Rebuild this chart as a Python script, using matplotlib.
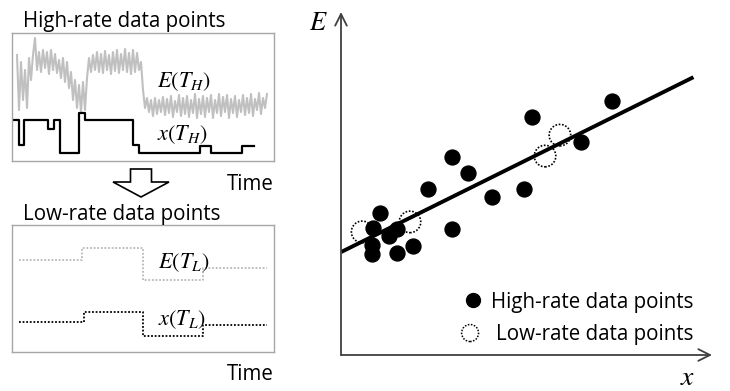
import numpy as np
import matplotlib.pyplot as plt
from matplotlib.patches import Polygon

plt.rcParams['mathtext.fontset'] = 'stix'
SANS = 'Open Sans'
FS = 14.8

W, H = 730, 391

# high-rate signals (time in samples, level above box bottom)
E_high = [106, 51, 99, 61, 91, 53, 103, 81, 106, 123, 91, 109, 89, 111, 93, 109,
          87, 111, 91, 107, 88, 101, 83, 103, 79, 99, 73, 89, 61, 81, 53, 76,
          49, 79, 51, 83,
          103, 89, 106, 91, 109, 89, 107, 88, 110, 91, 106, 87, 109, 90, 111, 88,
          107, 91, 112, 89, 108, 87, 111, 89, 108, 91, 99,
          71, 53, 63, 49, 61, 45, 63, 47, 61, 49, 64, 46, 62, 48, 65, 44,
          60, 49, 66, 45, 63, 47, 65, 44, 61, 48, 67, 43, 62, 47, 65, 44,
          63, 49, 66, 43, 61, 48, 67, 45, 64, 49, 66, 43, 62, 48, 65, 44,
          61, 49, 66, 46, 63, 48, 67, 45, 62, 51, 68, 47, 63, 53, 67]
t_high = np.arange(5, 5 + 2 * len(E_high), 2)

x_high_t = [0, 7, 12, 36, 42, 48, 67, 73, 121, 127, 188, 199, 230, 242]
x_high = [41, 16, 41, 32, 41, 8, 48, 41, 16, 8, 15, 8, 15, 15]

# low-rate signals
E_low_t = [7, 70, 131, 191, 255]
E_low = [92, 104, 72, 84, 84]
x_low_t = [7, 72, 131, 191, 255]
x_low = [30, 40, 16, 27, 27]

# scatter data
hi_x = [7.30, 5.15, 6.47, 2.99, 3.42, 2.35, 4.93, 4.07, 1.05, 2.99, 0.86,
        1.51, 1.29, 0.84, 0.84, 1.51, 1.94]
hi_E = [7.41, 6.94, 6.21, 5.77, 5.31, 4.84, 4.84, 4.61, 4.14, 3.67, 3.70,
        3.67, 3.47, 3.21, 2.94, 2.97, 3.18]
lo_x = [5.90, 5.50, 0.57, 1.86]
lo_E = [6.41, 5.80, 3.59, 3.88]
fit_x = [0.0, 9.5]
fit_E = [3.0, 8.1]


def fx(px):
    return px / W


def fy(py):
    return 1 - py / H


fig = plt.figure(figsize=(W / 100, H / 100), dpi=100)

# --- high-rate panel
ax_hi = fig.add_axes([fx(12), fy(161), 262 / W, 128 / H])
ax_hi.plot(t_high, E_high, color='#c0c0c0', lw=1.5)
ax_hi.plot(x_high_t, x_high, color='black', lw=1.6, drawstyle='steps-post')
ax_hi.set_xlim(0, 262)
ax_hi.set_ylim(0, 128)

# --- low-rate panel
ax_lo = fig.add_axes([fx(12), fy(352), 262 / W, 127 / H])
ax_lo.plot(E_low_t, E_low, color='#b8b8b8', lw=1.3, ls=(0, (1, 1)),
           drawstyle='steps-post')
ax_lo.plot(x_low_t, x_low, color='black', lw=1.3, ls=(0, (1, 1)),
           drawstyle='steps-post')
ax_lo.set_xlim(0, 262)
ax_lo.set_ylim(0, 127)

for ax in (ax_hi, ax_lo):
    ax.set_xticks([])
    ax.set_yticks([])
    for s in ax.spines.values():
        s.set_color('#a6a6a6')
        s.set_linewidth(1.0)

# --- scatter panel
ax = fig.add_axes([fx(341), fy(355), 371 / W, 343 / H])
ax.plot(fit_x, fit_E, color='black', lw=2.8, solid_capstyle='butt')
ax.scatter(hi_x, hi_E, s=115, color='black', zorder=3)
ax.scatter(lo_x, lo_E, s=240, facecolors='none', edgecolors='black',
           linewidths=1.2, linestyle=(0, (1, 1)), zorder=4)
ax.set_xlim(0, 10)
ax.set_ylim(0, 10)
ax.axis('off')

arrow = dict(arrowstyle='->, head_length=0.7, head_width=0.35',
             color='#404040', lw=1.3, shrinkA=0, shrinkB=0, mutation_scale=12)
ax.annotate('', xy=(0, 1), xytext=(0, 0), xycoords='axes fraction',
            arrowprops=arrow)
ax.annotate('', xy=(1, 0), xytext=(0, 0), xycoords='axes fraction',
            arrowprops=arrow)

# legend
ax.scatter([0.356], [0.160], s=100, color='black', transform=ax.transAxes,
           clip_on=False)
ax.scatter([0.348], [0.064], s=150, facecolors='none', edgecolors='black',
           linewidths=1.1, linestyle=(0, (1, 1)), transform=ax.transAxes,
           clip_on=False)
fig.text(fx(491), fy(308), 'High-rate data points', family=SANS,
         fontsize=FS, va='baseline')
fig.text(fx(496), fy(340), 'Low-rate data points', family=SANS,
         fontsize=FS, va='baseline')

# axis labels
fig.text(fx(309), fy(30), '$E$', fontsize=19, va='baseline')
fig.text(fx(680), fy(385), '$x$', fontsize=20, va='baseline')

# panel titles
fig.text(fx(23), fy(27), 'High-rate data points', family=SANS,
         fontsize=FS, va='baseline')
fig.text(fx(23), fy(220), 'Low-rate data points', family=SANS,
         fontsize=FS, va='baseline')
fig.text(fx(274), fy(190), 'Time', family=SANS, fontsize=FS,
         va='baseline', ha='right')
fig.text(fx(274), fy(380), 'Time', family=SANS, fontsize=FS,
         va='baseline', ha='right')

# signal labels
fig.text(fx(157), fy(87), '$E(T_H)$', fontsize=16, va='baseline')
fig.text(fx(157), fy(140), '$x(T_H)$', fontsize=16, va='baseline')
fig.text(fx(158), fy(268), '$E(T_L)$', fontsize=16, va='baseline')
fig.text(fx(158), fy(325), '$x(T_L)$', fontsize=16, va='baseline')

# hollow down arrow between the panels
pts = [(130.5, 169), (151.5, 169), (151.5, 182), (169, 182), (141, 197),
       (113, 182), (130.5, 182)]
fig.add_artist(Polygon([(fx(a), fy(b)) for a, b in pts], closed=True,
                       facecolor='white', edgecolor='black', lw=1.2,
                       transform=fig.transFigure))

fig.savefig('out.png', dpi=100)
